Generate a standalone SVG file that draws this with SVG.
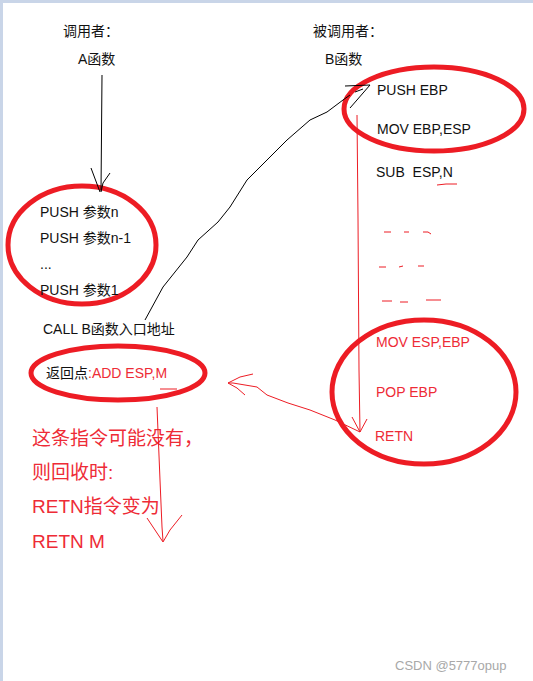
<svg xmlns="http://www.w3.org/2000/svg" width="533" height="681" viewBox="0 0 533 681">
<style>
text{font-family:"Liberation Sans","Noto Sans CJK SC",sans-serif;font-size:14px;fill:#111;white-space:pre}
.r{fill:#ee2b36}
.big{font-size:19px}
.ring{fill:none;stroke:#ed1c24;stroke-width:5}
.pen{fill:none;stroke:#000;stroke-width:1}
.rpen{fill:none;stroke:#ed1c24;stroke-width:1}
.wm{fill:#a8a8a8;font-size:13px}
</style>
<rect x="0" y="0" width="533" height="681" fill="#fff"/>
<rect x="0" y="0" width="533" height="3" fill="#c9d5e8"/>
<rect x="0" y="0" width="3" height="681" fill="#c9d5e8"/>

<g id="caller-label">
<text x="63" y="36">调用者：</text>
<text x="78" y="64">A函数</text>
</g>
<g id="callee-label">
<text x="313" y="36">被调用者：</text>
<text x="325" y="64">B函数</text>
</g>

<g id="push-args">
<ellipse class="ring" cx="82" cy="245" rx="74" ry="59"/>
<text x="40" y="217">PUSH 参数n</text>
<text x="40" y="243">PUSH 参数n-1</text>
<text x="40" y="269">...</text>
<text x="40" y="295">PUSH 参数1</text>
</g>
<g id="call">
<text x="43" y="334">CALL B函数入口地址</text>
</g>
<g id="return-point">
<ellipse class="ring" cx="118" cy="373" rx="87" ry="27"/>
<text x="46" y="378">返回点<tspan class="r">:ADD ESP,M</tspan></text>
<path class="rpen" d="M160 389 L177 389"/>
</g>
<g id="note">
<text class="r big" x="32" y="445">这条指令可能没有，</text>
<text class="r big" x="32" y="479">则回收时:</text>
<text class="r big" x="32" y="513">RETN指令变为</text>
<text class="r big" x="32" y="548">RETN M</text>
</g>

<g id="prologue">
<ellipse class="ring" cx="434" cy="109" rx="90" ry="42"/>
<text x="377" y="95">PUSH EBP</text>
<text x="377" y="134">MOV EBP,ESP</text>
</g>
<g id="sub">
<text x="376" y="177">SUB  ESP,N</text>
<path class="rpen" d="M437 185 L446 184 M446 184 L457 184"/>
</g>
<g id="body-dashes">
<path class="rpen" d="M384 232 L391 232 M404 232 L409 232 M423 232 L428 232 L431 234 M379 267 L386 267 M399 267 L403 266 M418 266 L424 266 M382 301 L392 301 M400 302 L408 302 M426 300 L441 300"/>
</g>
<g id="epilogue">
<ellipse class="ring" cx="424" cy="392" rx="92" ry="72"/>
<text class="r" x="376" y="347">MOV ESP,EBP</text>
<text class="r" x="376" y="397">POP EBP</text>
<text class="r" x="375" y="441">RETN</text>
</g>

<g id="connectors">
<path class="pen" d="M102 75 L101 191 M91 168 L100 192 M110 173 L103 183 L101 192"/>
<path class="pen" d="M145 320 L163 287 L187 257 L198 240 L218 222 L230 207 L247 180 L267 160 L287 140 L310 120 L327 112 L343 100 L350 95"/>
<path class="pen" d="M345 86 L370 85 L350 108 M355 92 L363 89"/>
<path class="rpen" d="M357 115 L358 218 L359 370 L360 432 M352 417 L360 432 M367 419 L360 432"/>
<path class="rpen" d="M360 432 L335 420 L310 410 L288 403 L267 395 L257 387 L233 383 L228 383 M228 383 L240 377 L253 374 M228 383 L237 388 L245 395"/>
<path class="rpen" d="M157 407 L160 480 L162 527 L163 541 M147 518 L163 542 M182 515 L170 530 L163 542"/>
</g>

<text class="wm" x="395" y="670">CSDN @5777opup</text>
</svg>
